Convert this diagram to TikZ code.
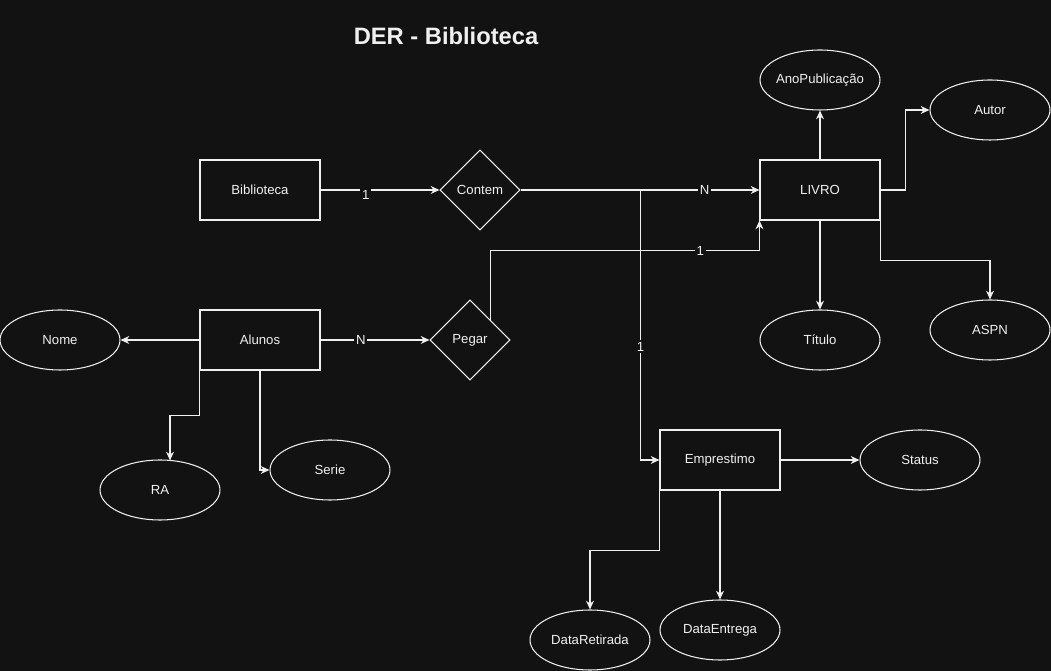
\documentclass[tikz,border=0pt]{standalone}
\usepackage{fontspec}
\setmainfont{Liberation Sans}
\usetikzlibrary{shapes.geometric,arrows.meta,calc}
\definecolor{bgdark}{RGB}{18,18,18}
\definecolor{ink}{RGB}{240,240,240}

\begin{document}
\begin{tikzpicture}[x=0.02cm,y=-0.02cm,
  every node/.style={text=ink,font=\fontsize{7.5}{9}\selectfont},
  entity/.style={draw=ink,line width=0.6pt,minimum width=2.4cm,minimum height=1.2cm,inner sep=0pt},
  attrib/.style={draw=ink,line width=0.6pt,ellipse,minimum width=2.4cm,minimum height=1.2cm,inner sep=0pt},
  rel/.style={draw=ink,line width=0.6pt,diamond,minimum size=1.6cm,inner sep=0pt},
  link/.style={draw=ink,line width=0.6pt,-{Stealth[length=5pt,width=4.5pt]}},
  card/.style={fill=bgdark,inner sep=1pt}]
\fill[bgdark] (0,0) rectangle (1051,671);
\useasboundingbox (0,0) rectangle (1051,671);

\node[font=\bfseries\fontsize{13.5}{15}\selectfont] (titulo) at (446,36) {DER - Biblioteca};

% entidades e relacoes
\node[entity] (biblioteca) at (260,190) {Biblioteca};
\node[rel] (contem) at (480,190) {Contem};
\node[entity] (livro) at (820,190) {LIVRO};
\node[entity] (alunos) at (260,340) {Alunos};
\node[rel] (pegar) at (470,340) {Pegar};
\node[entity] (emprestimo) at (720,460) {Emprestimo};

% atributos
\node[attrib,inner xsep=-3pt] (ano) at (820,80) {AnoPublicação};
\node[attrib] (autor) at (990,110) {Autor};
\node[attrib] (tit) at (820,340) {Título};
\node[attrib] (aspn) at (990,330) {ASPN};
\node[attrib] (nome) at (60,340) {Nome};
\node[attrib] (ra) at (160,490) {RA};
\node[attrib] (serie) at (330,470) {Serie};
\node[attrib] (status) at (920,460) {Status};
\node[attrib] (retirada) at (590,640) {DataRetirada};
\node[attrib] (entrega) at (720,630) {DataEntrega};

% ligacoes
\draw[link] (biblioteca) -- node[card,pos=0.38,yshift=-0.1cm] {1} (contem);
\draw[link] (contem) -- node[card,pos=0.77] {N} (livro);
\draw[link] (contem.east) -- ++(120,0) |- node[card,pos=0.29] {1} (emprestimo.west);
\draw[link] (pegar.north east) |- node[card,pos=0.89] {1} ($(livro.south west)+(0,30)$) -- (livro.south west);
\draw[link] (alunos) -- node[card,pos=0.37] {N} (pegar);
\draw[link] (alunos) -- (nome);
\draw[link] (alunos.south west) -- ++(0,45) -| ($(ra.north)+(10,1)$);
\draw[link] (alunos.south) |- (serie.west);
\draw[link] (livro) -- (ano);
\draw[link] (livro.east) -- ++(25,0) |- (autor.west);
\draw[link] (livro) -- (tit);
\draw[link] (livro.south east) -- ++(0,40) -| (aspn.north);
\draw[link] (emprestimo) -- (status);
\draw[link] (emprestimo.south west) -- ++(0,60) -| (retirada.north);
\draw[link] (emprestimo) -- (entrega);
\end{tikzpicture}
\end{document}
